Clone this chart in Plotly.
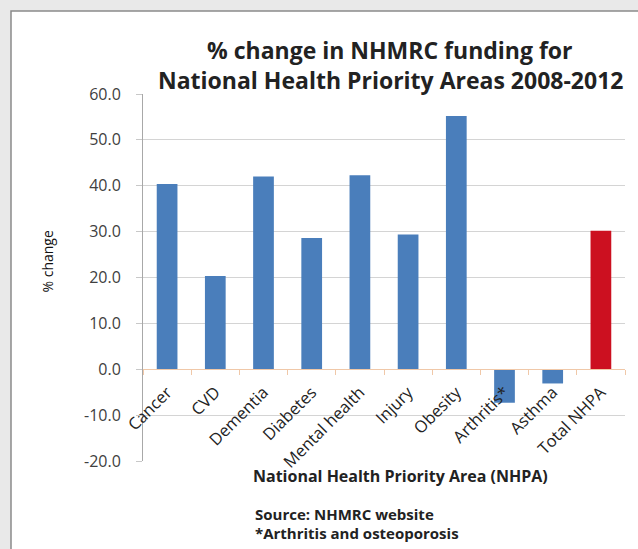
import plotly.graph_objects as go

categories = ["Cancer", "CVD", "Dementia", "Diabetes", "Mental health",
              "Injury", "Obesity", "Arthritis*", "Asthma", "Total NHPA"]
pct_change = [40.4, 20.3, 42.0, 28.6, 42.3, 29.4, 55.2, -7.3, -3.1, 30.2]
bar_colors = ["#4A7EBB"] * 9 + ["#CC1020"]
y_ticks = [60, 50, 40, 30, 20, 10, 0, -10, -20]

W, H = 638, 549
L, R, T, B = 143, 13, 94, 88
pw, ph = W - L - R, H - T - B

def px(x):
    return (x - L) / pw

def py(y):
    return (H - B - y) / ph

font = "Open Sans"

fig = go.Figure()
fig.add_trace(go.Bar(x=categories, y=pct_change, marker_color=bar_colors,
                     marker_line_width=0, width=0.43))

fig.update_layout(
    width=W, height=H,
    margin=dict(l=L, r=R, t=T, b=B),
    paper_bgcolor="#e9e9e9",
    plot_bgcolor="rgba(0,0,0,0)",
    showlegend=False,
    font=dict(family=font, color="#333333"),
    xaxis=dict(
        anchor="free", position=0.25,
        tickangle=-45, tickfont=dict(size=16.5, color="#222222"),
        ticks="outside", tickson="boundaries", ticklen=5, tickcolor="#f0c8a8",
        ticklabelstandoff=6,
        showline=True, linecolor="#f0c8a8", linewidth=1,
        showgrid=False, zeroline=False,
    ),
    yaxis=dict(
        range=[-20, 60], tickvals=y_ticks,
        ticktext=[f"{v:.1f}" for v in y_ticks],
        tickfont=dict(size=16, color="#404040"),
        ticks="outside", ticklen=6, tickcolor="#c8c8c8",
        ticklabelstandoff=12,
        showline=True, linecolor="#a8a8a8",
        showgrid=True, gridcolor="#d4d4d4", zeroline=False,
    ),
    shapes=[dict(type="rect", xref="paper", yref="paper",
                 x0=px(11), x1=px(660), y0=py(580), y1=py(11),
                 fillcolor="white", line=dict(color="#8a8a8a", width=1.5),
                 layer="below")],
    annotations=[
        dict(text="<b>% change in NHMRC funding for</b>", xref="paper", yref="paper",
             x=px(390), y=py(32), showarrow=False, font=dict(size=23, color="#222222")),
        dict(text="<b>National Health Priority Areas 2008-2012</b>", xref="paper", yref="paper",
             x=px(390), y=py(62), showarrow=False, font=dict(size=23, color="#222222")),
        dict(text="% change", xref="paper", yref="paper", x=px(35), y=py(262),
             textangle=-90, showarrow=False, font=dict(size=14, color="#111111")),
        dict(text="<b>National Health Priority Area (NHPA)</b>", xref="paper", yref="paper",
             x=px(400), y=py(489), showarrow=False, font=dict(size=16, color="#222222")),
        dict(text="<b>Source: NHMRC website</b>", xref="paper", yref="paper",
             x=px(253), y=py(526), xanchor="left", showarrow=False,
             font=dict(size=15, color="#222222")),
        dict(text="<b>*Arthritis and osteoporosis</b>", xref="paper", yref="paper",
             x=px(253), y=py(545), xanchor="left", showarrow=False,
             font=dict(size=15, color="#222222")),
    ],
)

fig.write_html("out.html")
